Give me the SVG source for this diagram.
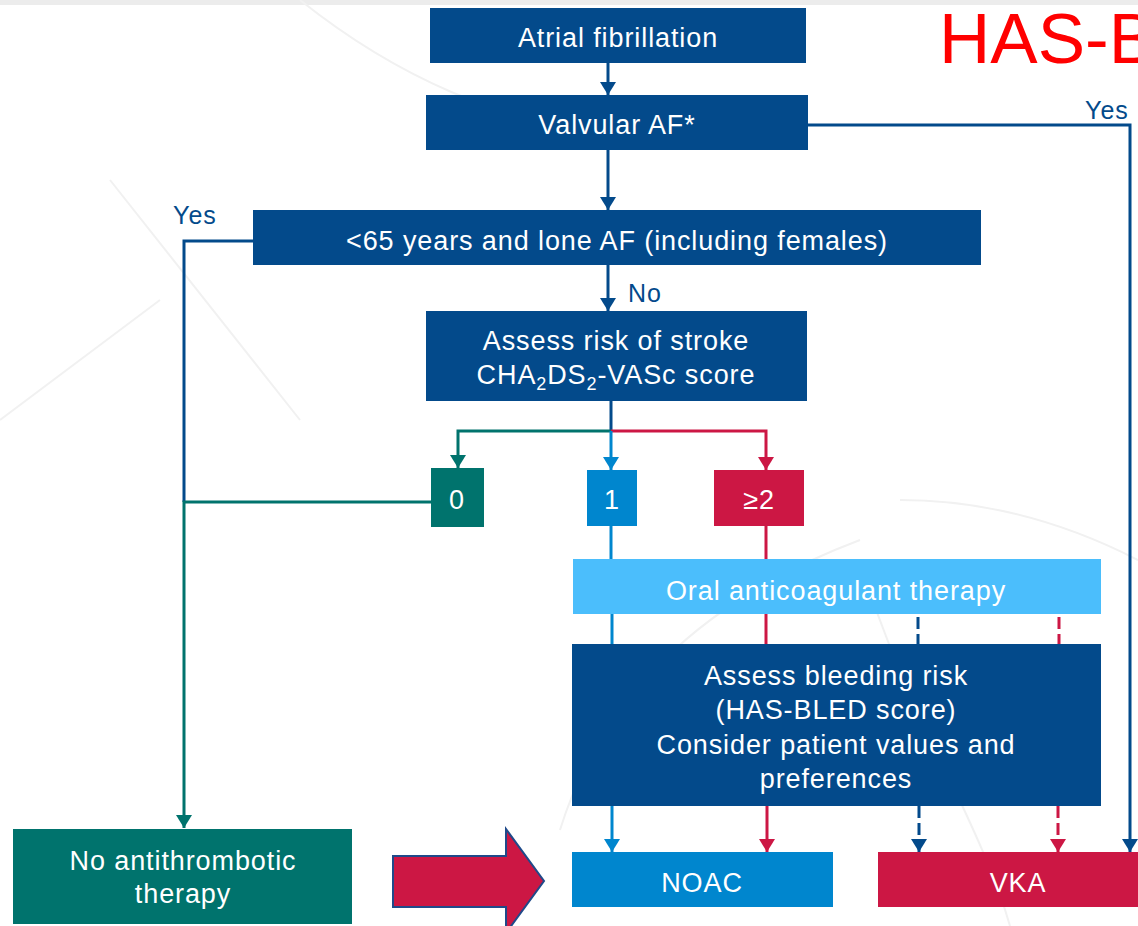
<svg xmlns="http://www.w3.org/2000/svg" width="1138" height="926" viewBox="0 0 1138 926">
<defs>
<style>
.t{font-family:"Liberation Sans",Arial,sans-serif;font-size:27px;fill:#ffffff;text-anchor:middle;letter-spacing:0.9px}
.lbl{font-family:"Liberation Sans",Arial,sans-serif;font-size:25px;fill:#034a8b;letter-spacing:1px}
.ln{fill:none;stroke-width:3}
.db{stroke:#034a8b}
.tl{stroke:#00736d}
.mb{stroke:#0086ce}
.rd{stroke:#cc1744}
.dash{stroke-dasharray:12 5}
.bg{fill:none;stroke:#f1f1f1;stroke-width:2}
</style>
<marker id="aDB" markerUnits="userSpaceOnUse" markerWidth="16" markerHeight="16" refX="13" refY="8" orient="auto"><path d="M0,0 L13,8 L0,16 z" fill="#034a8b"/></marker>
<marker id="aTL" markerUnits="userSpaceOnUse" markerWidth="16" markerHeight="16" refX="13" refY="8" orient="auto"><path d="M0,0 L13,8 L0,16 z" fill="#00736d"/></marker>
<marker id="aMB" markerUnits="userSpaceOnUse" markerWidth="16" markerHeight="16" refX="13" refY="8" orient="auto"><path d="M0,0 L13,8 L0,16 z" fill="#0086ce"/></marker>
<marker id="aRD" markerUnits="userSpaceOnUse" markerWidth="16" markerHeight="16" refX="13" refY="8" orient="auto"><path d="M0,0 L13,8 L0,16 z" fill="#cc1744"/></marker>
</defs>
<rect x="0" y="0" width="1138" height="926" fill="#ffffff"/>
<rect x="0" y="0" width="1138" height="5" fill="#ececec"/>
<g id="background">
<path class="bg" d="M110,180 L300,420"/>
<path class="bg" d="M0,420 L160,300"/>
<path class="bg" d="M560,830 C600,700 700,600 860,540"/>
<path class="bg" d="M860,560 C900,700 980,820 1010,926"/>
<path class="bg" d="M300,0 C400,80 500,120 620,140"/>
<path class="bg" d="M1138,560 C1060,520 980,500 900,500"/>
</g>
<text x="939" y="63" font-family="Liberation Sans,Arial,sans-serif" font-size="71" fill="#ff0000">HAS-B</text>
<g id="connectors">
<path class="ln db" d="M608,63 V95" marker-end="url(#aDB)"/>
<path class="ln db" d="M608,150 V210" marker-end="url(#aDB)"/>
<path class="ln db" d="M808,125 H1130 V852" marker-end="url(#aDB)"/>
<path class="ln db" d="M608,265 V311" marker-end="url(#aDB)"/>
<path class="ln db" d="M253,241 H184 V502"/>
<path class="ln tl" d="M431,502 H184 V828" marker-end="url(#aTL)"/>
<path class="ln db" d="M611,401 V431"/>
<path class="ln tl" d="M611,431 H458 V468" marker-end="url(#aTL)"/>
<path class="ln rd" d="M611,431 H766 V470" marker-end="url(#aRD)"/>
<path class="ln mb" d="M611,431 V470" marker-end="url(#aMB)"/>
<path class="ln mb" d="M611,526 V559"/>
<path class="ln rd" d="M766,526 V559"/>
<path class="ln mb" d="M612,614 V644"/>
<path class="ln rd" d="M766,614 V644"/>
<path class="ln db dash" d="M918,617 V644"/>
<path class="ln rd dash" d="M1059,617 V644"/>
<path class="ln mb" d="M612,806 V852" marker-end="url(#aMB)"/>
<path class="ln rd" d="M767,806 V852" marker-end="url(#aRD)"/>
<path class="ln db dash" d="M919,806 V852" marker-end="url(#aDB)"/>
<path class="ln rd dash" d="M1058,806 V852" marker-end="url(#aRD)"/>
<text class="lbl" x="1085" y="119">Yes</text>
<text class="lbl" x="173" y="224">Yes</text>
<text class="lbl" x="628" y="302">No</text>
</g>
<g id="n-af"><rect x="430" y="8" width="376" height="55" fill="#034a8b"/><text class="t" x="618" y="47">Atrial fibrillation</text></g>
<g id="n-valv"><rect x="426" y="95" width="382" height="55" fill="#034a8b"/><text class="t" x="617" y="134">Valvular AF*</text></g>
<g id="n-lone"><rect x="253" y="210" width="728" height="55" fill="#034a8b"/><text class="t" x="617" y="250">&lt;65 years and lone AF (including  females)</text></g>
<g id="n-stroke"><rect x="426" y="311" width="381" height="90" fill="#034a8b"/><text class="t" x="616" y="350">Assess risk of stroke</text><text class="t" x="616" y="384">CHA<tspan font-size="18" dy="6">2</tspan><tspan dy="-6">DS</tspan><tspan font-size="18" dy="6">2</tspan><tspan dy="-6">-VASc score</tspan></text></g>
<g id="n-0"><rect x="431" y="468" width="53" height="59" fill="#00736d"/><text class="t" x="457" y="509">0</text></g>
<g id="n-1"><rect x="587" y="470" width="50" height="56" fill="#0086ce"/><text class="t" x="612" y="509">1</text></g>
<g id="n-2"><rect x="714" y="470" width="90" height="56" fill="#cc1744"/><text class="t" x="759" y="509">≥2</text></g>
<g id="n-oac"><rect x="573" y="559" width="528" height="55" fill="#4bbefc"/><text class="t" x="836" y="600">Oral anticoagulant  therapy</text></g>
<g id="n-bleed"><rect x="572" y="644" width="529" height="162" fill="#034a8b"/><text class="t" x="836" y="685">Assess bleeding risk</text><text class="t" x="836" y="719">(HAS-BLED score)</text><text class="t" x="836" y="754">Consider patient values and</text><text class="t" x="836" y="788">preferences</text></g>
<g id="n-none"><rect x="13" y="829" width="339" height="95" fill="#00736d"/><text class="t" x="183" y="870">No antithrombotic</text><text class="t" x="183" y="903">therapy</text></g>
<g id="big-arrow"><path d="M393,856 H506 V829 L544,881 L506,933 V907 H393 Z" fill="#cc1744" stroke="#1f4a8a" stroke-width="2"/></g>
<g id="n-noac"><rect x="572" y="852" width="261" height="55" fill="#0086ce"/><text class="t" x="702" y="892">NOAC</text></g>
<g id="n-vka"><rect x="878" y="852" width="262" height="55" fill="#cc1744"/><text class="t" x="1018" y="892">VKA</text></g>
</svg>
